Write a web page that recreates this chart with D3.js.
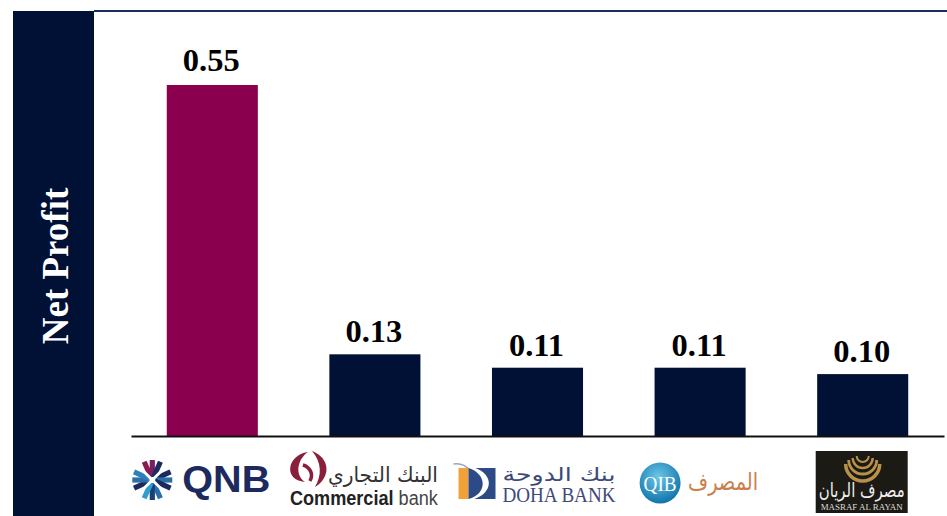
<!DOCTYPE html>
<html><head><meta charset="utf-8">
<script src="https://cdnjs.cloudflare.com/ajax/libs/d3/7.8.5/d3.min.js"></script>
<style>html,body{margin:0;padding:0;background:#fff}svg{display:block}</style></head>
<body><svg id="c" width="947" height="516"></svg>
<script>
const categories = ["QNB","Commercial Bank","Doha Bank","QIB","Masraf Al Rayan"];
const values = [0.55,0.128,0.107,0.107,0.097];
const labels = ["0.55","0.13","0.11","0.11","0.10"];
const axisTitle = "Net Profit";

const navy="#001135", plum="#8a004f";
const svg=d3.select("#c");
const serif="'Liberation Serif','Times New Roman',serif";
const sans="'Liberation Sans',Arial,sans-serif";
const dejavu="'DejaVu Sans',sans-serif";
const x=d3.scaleBand().domain(categories).range([131,944]).paddingInner(0.44).paddingOuter(0.22);
const y=d3.scaleLinear().domain([0,0.55]).range([436,85]);

// frame
svg.append("rect").attr("x",13).attr("y",11).attr("width",81).attr("height",505).attr("fill",navy);
svg.append("rect").attr("x",94).attr("y",10).attr("width",853).attr("height",2).attr("fill","#1c2c58");
svg.append("text").attr("transform","translate(68,266) rotate(-90)").attr("text-anchor","middle")
  .attr("font-family",serif).attr("font-weight",700).attr("font-size",37).attr("fill","#fff").text(axisTitle);

// bars
svg.selectAll("rect.bar").data(categories).join("rect").attr("class","bar")
  .attr("x",d=>x(d)).attr("width",x.bandwidth())
  .attr("y",(d,i)=>y(values[i])).attr("height",(d,i)=>y(0)-y(values[i]))
  .attr("fill",(d,i)=>i===0?plum:navy);
svg.selectAll("text.val").data(categories).join("text").attr("class","val")
  .attr("x",d=>x(d)+x.bandwidth()/2-1).attr("y",(d,i)=>y(values[i])-(i===0?14:12))
  .attr("text-anchor","middle").attr("font-family",serif).attr("font-weight",700)
  .attr("font-size",32.5).attr("fill","#000").text((d,i)=>labels[i]);

// baseline axis
const ax=svg.append("g").attr("transform","translate(0,436)").call(d3.axisBottom(x).tickSize(0).tickFormat(""));
ax.select(".domain").attr("stroke","#111").attr("stroke-width",2);

// logos
const logo=(name)=>svg.append("g").attr("transform",`translate(${x(name)+x.bandwidth()/2},0)`);
const T=(g,t,px,py,size,fill,opt={})=>g.append("text").attr("x",px).attr("y",py).attr("font-size",size)
  .attr("fill",fill).attr("font-family",opt.font||sans).attr("font-weight",opt.w||400)
  .attr("text-anchor",opt.a||"middle").attr("textLength",opt.len||null).attr("lengthAdjust",opt.len?"spacingAndGlyphs":null).text(t);

// QNB
{const g=logo(categories[0]);
 const s=g.append("g").attr("transform","translate(-60,480)");
 const sectors=[[0,["#8a1a50","#7a2060","#1c2a5e"]],[90,["#1c2a5e","#2a6fa8","#1c2a5e"]],[180,["#2a6fa8","#1c3f7a","#2f9fd0"]],[270,["#1c2a5e","#2a6fa8","#2f7fb8"]]];
 sectors.forEach(([a,cols])=>{
   [-24,0,24].forEach((o,i)=>{
     s.append("path").attr("d","M-2.6,-20 L2.6,-20 L2.6,-3 L-2.6,-3 Z").attr("fill",cols[i]).attr("transform",`rotate(${a+o})`);
   });
 });
 [45,135].forEach(a=>s.append("rect").attr("x",-1.4).attr("y",-15).attr("width",2.8).attr("height",30).attr("fill","#fff").attr("transform",`rotate(${a})`));
 T(g,"QNB",-30,492,37,"#1c2a5e",{w:700,a:"start",len:88});
}
// Commercial bank
{const g=logo(categories[1]);
 const red="#8a1f3c";
 g.append("path").attr("d","M-67,452 C-88,455 -92,480 -70,482 C-80,475 -78,460 -67,452 Z").attr("fill",red);
 g.append("path").attr("d","M-63,451 C-44,458 -44,478 -60,487 C-53,476 -53,462 -63,451 Z").attr("fill",red);
 g.append("path").attr("d","M-72,465 C-65,467 -61,474 -65,481").attr("fill","none").attr("stroke",red).attr("stroke-width",3.5);
 T(g,"البنك التجاري",-47,482,21,"#333",{a:"start",len:110,font:dejavu});
 const cb=T(g,"",-85,505,20,"#222",{a:"start",len:148});
 cb.append("tspan").attr("font-weight",700).text("Commercial");
 cb.append("tspan").attr("fill","#444").text(" bank");
}
// Doha Bank
{const g=logo(categories[2]);
 g.append("path").attr("d","M-84,464 C-78,463 -72,465 -68,470").attr("fill","none").attr("stroke","#9aa6b8").attr("stroke-width",1.5);
 g.append("rect").attr("x",-79).attr("y",468).attr("width",10).attr("height",31).attr("fill","#f0a13a");
 g.append("rect").attr("x",-69).attr("y",468).attr("width",27).attr("height",31).attr("fill","#2c4a86");
 g.append("path").attr("d","M-69,468 C-50,474 -50,494 -69,499 L-63,499 C-44,492 -44,475 -62,468 Z").attr("fill","#fff");
 T(g,"بنك الدوحة",-35,481,19,"#3d4a78",{a:"start",len:113,font:dejavu});
 T(g,"DOHA BANK",-35,502,20,"#3d4a78",{a:"start",len:113,font:serif});
}
// QIB
{const g=logo(categories[3]);
 const grad=svg.append("defs").append("radialGradient").attr("id","qibg").attr("cx","45%").attr("cy","35%").attr("r","70%");
 grad.append("stop").attr("offset","0%").attr("stop-color","#6cc6e8");
 grad.append("stop").attr("offset","100%").attr("stop-color","#0a6fa6");
 g.append("circle").attr("cx",-40).attr("cy",483).attr("r",20.5).attr("fill","url(#qibg)");
 T(g,"QIB",-40,491,21,"#fff",{font:serif,len:33});
 T(g,"المصرف",-12,490,24,"#c97f4e",{a:"start",len:70,font:dejavu});
}
// Masraf Al Rayan
{const g=logo(categories[4]);
 g.append("rect").attr("x",-47).attr("y",451).attr("width",92).attr("height",62).attr("fill","#1c1a14");
 const a=g.append("g").attr("fill","none").attr("stroke","#b8924a");
 [[17,464,3.5],[14,460,2.8],[10,458,2.4],[6,456,2]].forEach(([r,cy,w])=>a.append("path").attr("stroke-width",w)
   .attr("d",`M${-r},${cy} A${r},${r} 0 0 0 ${r},${cy}`));
 T(g,"مصرف الريان",-1,497,20,"#eee",{len:86,font:dejavu});
 T(g,"MASRAF AL RAYAN",-1,510,8.5,"#ddd",{len:82,font:serif});
}
</script></body></html>
